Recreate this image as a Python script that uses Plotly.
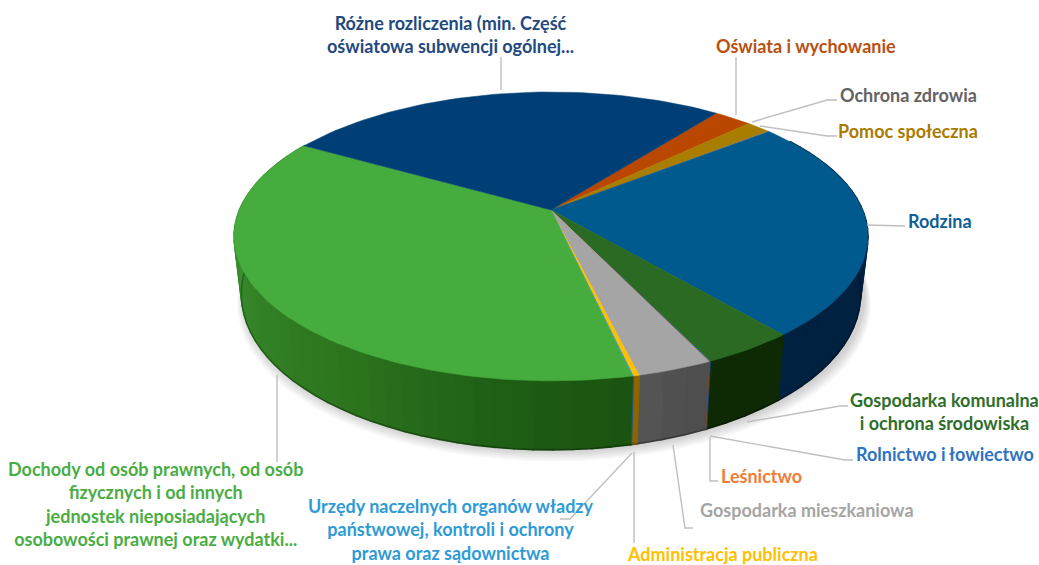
import math
import plotly.graph_objects as go

# ---------- data (share of total, %), clockwise from the first slice ----------
categories = ["Oświata i wychowanie", "Pomoc społeczna", "Ochrona zdrowia", "Rodzina",
              "Gospodarka komunalna i ochrona środowiska", "Rolnictwo i łowiectwo", "Leśnictwo",
              "Gospodarka mieszkaniowa", "Administracja publiczna",
              "Urzędy naczelnych organów władzy państwowej, kontroli i ochrony prawa oraz sądownictwa",
              "Dochody od osób prawnych, od osób fizycznych i od innych jednostek nieposiadających osobowości prawnej oraz wydatki...",
              "Różne rozliczenia (min. Część oświatowa subwencji ogólnej..."]
values = [2.3, 1.45, 0.1, 24.7, 4.05, 0.05, 0.03, 3.2, 0.25, 0.05, 36.8, 27.02]

# ---------- styles ----------
top_colors = ["#b94700", "#a87d00", "#636363", "#005a8e", "#2a6a22", "#2f6fc0", "#ed7d31",
              "#a5a5a5", "#ffc000", "#2f96d6", "#45ac3d", "#003f75"]
wall_stops = [["#7a3000"], ["#6e5200"], ["#3a3a3a"], ["#00213f"], ["#0e2a05"], ["#1a3f70"],
              ["#8a4a1c"], ["#4c4c4c", "#555555"], ["#8f6400"], ["#1a5a80"],
              ["#1b5310", "#1f6016", "#2c731d", "#327f25", "#378a2c", "#3d9534", "#3a9031"], ["#002a4e"]]
text_colors = {"ozw": "#b9500f", "poc": "#a97b00", "och": "#636363", "rod": "#0f5f95", "kom": "#2e6e2a",
               "rol": "#2f72c4", "les": "#f07b35", "mie": "#a5a5a5", "adm": "#ffc000", "urz": "#2e9bd6",
               "doc": "#4aad44", "roz": "#1f4a7f"}
FONT = "Lato"
FS = 18

# ---------- layout of labels and leaders (pixels of the 1039x565 canvas) ----------
labels = [
    ("Różne rozliczenia (min. Część<br>oświatowa subwencji ogólnej...", 450, 34, "roz"),
    ("Oświata i wychowanie", 806, 46, "ozw"),
    ("Ochrona zdrowia", 908, 95, "och"),
    ("Pomoc społeczna", 908, 131, "poc"),
    ("Rodzina", 940, 221, "rod"),
    ("Gospodarka komunalna<br>i ochrona środowiska", 944, 411, "kom"),
    ("Rolnictwo i łowiectwo", 945, 454, "rol"),
    ("Leśnictwo", 761, 476, "les"),
    ("Gospodarka mieszkaniowa", 807, 510, "mie"),
    ("Administracja publiczna", 722, 554, "adm"),
    ("Urzędy naczelnych organów władzy<br>państwowej, kontroli i ochrony<br>prawa oraz sądownictwa", 451, 529, "urz"),
    ("Dochody od osób prawnych, od osób<br>fizycznych i od innych<br>jednostek nieposiadających<br>osobowości prawnej oraz wydatki...", 155, 504, "doc"),
]
leaders = [
    [(501, 57), (501, 90)], [(736, 57), (736, 115)],
    [(837, 100), (827, 100), (752, 122)], [(837, 136), (827, 136), (760, 126)],
    [(905, 226), (867, 225)], [(848, 406), (840, 406), (747, 422)],
    [(853, 460), (845, 460), (710, 436)], [(718, 481), (710, 481), (710, 437)],
    [(693, 528), (685, 528), (673, 445)], [(634, 543), (634, 452)],
    [(632, 453), (570, 519), (560, 519)], [(277, 375), (277, 462)],
]

# ---------- perspective pie geometry ----------
CX, CY = 551, 210
A, B, K = 139.6, 311.6, 0.183
START = 37.4


def top(angle, r=1.0):
    t = math.radians(angle)
    u, v = r * math.sin(t), r * math.cos(t)
    w = 1 + K * v
    return CX + B * u / w, CY - A * v / w


def bottom(angle):
    x, y = top(angle)
    v = math.cos(math.radians(angle))
    return CX + (x - CX) * 0.977, y + 55 - 14 * v


def mix(c1, c2, f):
    a = [int(c1[i:i + 2], 16) for i in (1, 3, 5)]
    b = [int(c2[i:i + 2], 16) for i in (1, 3, 5)]
    return "#%02x%02x%02x" % tuple(round(p + (q - p) * f) for p, q in zip(a, b))


def ramp(stops, f):
    if len(stops) == 1:
        return stops[0]
    p = f * (len(stops) - 1)
    i = min(int(p), len(stops) - 2)
    return mix(stops[i], stops[i + 1], p - i)


def poly(pts, color, width=0.8):
    xs = [p[0] for p in pts] + [pts[0][0]]
    ys = [p[1] for p in pts] + [pts[0][1]]
    return go.Scatter(x=xs, y=ys, mode="lines", fill="toself", fillcolor=color,
                      line=dict(color=color, width=width), hoverinfo="skip", showlegend=False)


fig = go.Figure()
total = sum(values)
edges = [START]
for val in values:
    edges.append(edges[-1] + val / total * 360)

# soft shadow under the pie
circle = list(range(60, 300, 4))
for d in range(1, 7):
    pts = [(bottom(a)[0] + d * 1.2 * math.sin(math.radians(a)) + 3, bottom(a)[1] + d * 1.9) for a in circle]
    fig.add_trace(poly(pts, "rgba(0,0,0,0.03)", width=0))

# side walls, one band every few degrees
for i, stops in enumerate(wall_stops):
    a0, a1 = edges[i], edges[i + 1]
    n = max(1, int((a1 - a0) / 3))
    for j in range(n):
        s0 = a0 + (a1 - a0) * j / n
        s1 = a0 + (a1 - a0) * (j + 1) / n
        if 300 < (s0 % 360) or (s1 % 360) < 60:
            continue
        fine = [s0 + (s1 - s0) * q / 4 for q in range(5)]
        pts = [top(a) for a in fine] + [bottom(a) for a in reversed(fine)]
        fig.add_trace(poly(pts, ramp(stops, (j + 0.5) / n), width=1.6))

# dark lower edge of the wall
rim = [bottom(a) for a in range(60, 300, 3)]
fig.add_trace(go.Scatter(x=[p[0] for p in rim], y=[p[1] for p in rim], mode="lines",
                         line=dict(color="rgba(0,0,0,0.3)", width=1.5), hoverinfo="skip", showlegend=False))

# top faces
for i, col in enumerate(top_colors):
    a0, a1 = edges[i], edges[i + 1]
    n = max(2, int((a1 - a0) / 1.5))
    pts = [(CX, CY)] + [top(a0 + (a1 - a0) * q / n) for q in range(n + 1)]
    fig.add_trace(poly(pts, col, width=0.5))

# leader lines
for seg in leaders:
    fig.add_trace(go.Scatter(x=[p[0] for p in seg], y=[p[1] for p in seg], mode="lines",
                             line=dict(color="#bfbfbf", width=1.4), hoverinfo="skip", showlegend=False))

for text, x, y, key in labels:
    fig.add_annotation(x=x, y=y, xref="x", yref="y", text=text, showarrow=False, align="center",
                       xanchor="center", yanchor="middle",
                       font=dict(family=FONT, size=FS, color=text_colors[key], weight="bold"))

fig.update_layout(width=1039, height=565, margin=dict(l=0, r=0, t=0, b=0), showlegend=False,
                  paper_bgcolor="white", plot_bgcolor="white",
                  xaxis=dict(range=[0, 1039], visible=False, fixedrange=True),
                  yaxis=dict(range=[565, 0], visible=False, fixedrange=True))
fig.write_html("out.html", config={"displayModeBar": False},
               post_script="document.body.style.margin='0';document.body.style.overflow='hidden';")
